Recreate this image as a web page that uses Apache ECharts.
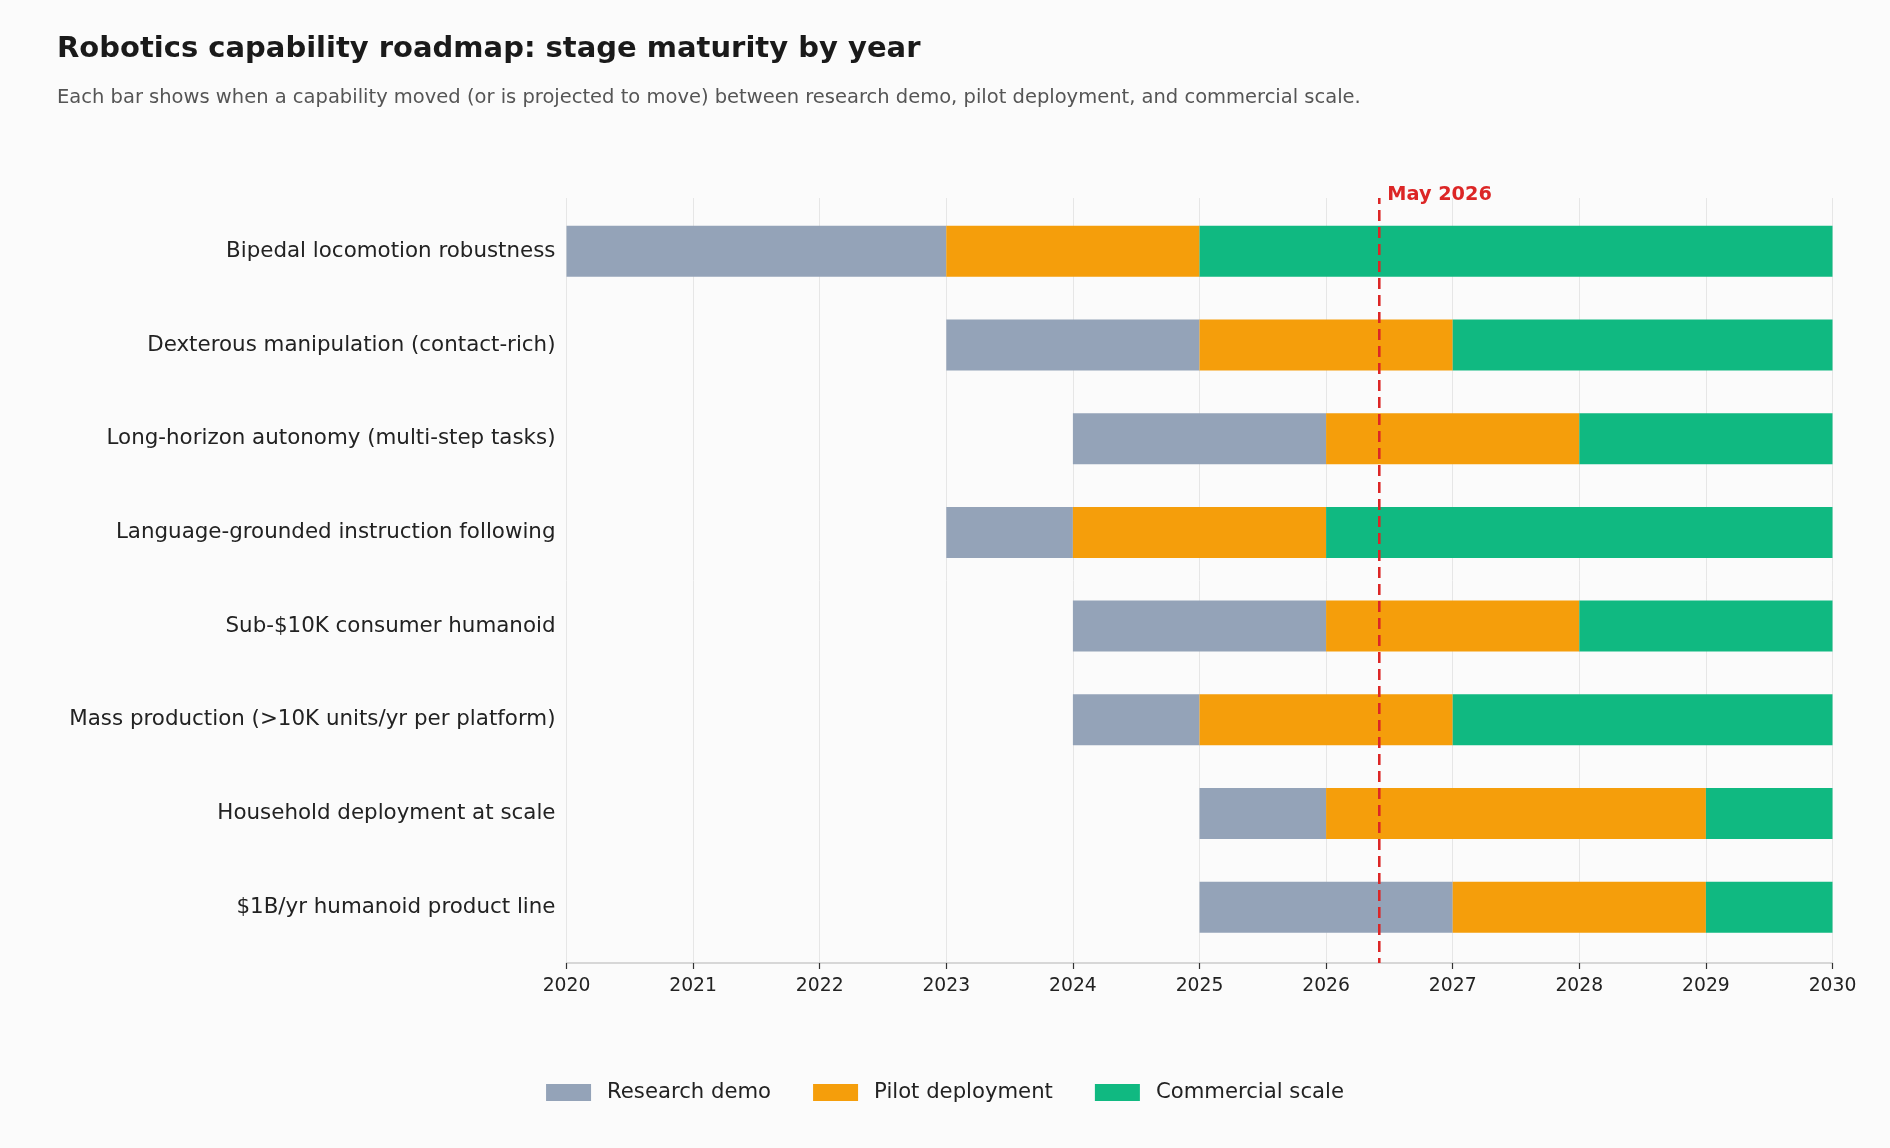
<!DOCTYPE html>
<html>
<head>
<meta charset="utf-8">
<title>Robotics capability roadmap</title>
<script src="https://cdn.jsdelivr.net/npm/echarts@6/dist/echarts.min.js"></script>
<style>
  html, body { margin: 0; padding: 0; background: #fbfbfb; }
  #chart { width: 1890px; height: 1148px; }
</style>
</head>
<body>
<div id="chart"></div>
<script>
// ---- data ----
var categories = [
  'Bipedal locomotion robustness',
  'Dexterous manipulation (contact-rich)',
  'Long-horizon autonomy (multi-step tasks)',
  'Language-grounded instruction following',
  'Sub-$10K consumer humanoid',
  'Mass production (>10K units/yr per platform)',
  'Household deployment at scale',
  '$1B/yr humanoid product line'
];
var researchStart   = [2020, 2023, 2024, 2023, 2024, 2024, 2025, 2025];
var pilotStart      = [2023, 2025, 2026, 2024, 2026, 2025, 2026, 2027];
var commercialStart = [2025, 2027, 2028, 2026, 2028, 2027, 2029, 2029];
var horizonEnd      = [2030, 2030, 2030, 2030, 2030, 2030, 2030, 2030];
var stageNames = ['Research demo', 'Pilot deployment', 'Commercial scale'];
var stageColors = ['#94a3b8', '#f59e0b', '#10b981'];
var yearMin = 2020, yearMax = 2030;
var markerYear = 2026.42;        // May 2026
var markerLabel = 'May 2026';

// segment lengths for the stacked bars
var researchLen = researchStart.map(function (s, i) { return pilotStart[i] - s; });
var pilotLen = pilotStart.map(function (s, i) { return commercialStart[i] - s; });
var commercialLen = commercialStart.map(function (s, i) { return horizonEnd[i] - s; });

var chart = echarts.init(document.getElementById('chart'), null, { renderer: 'canvas' });

function stage(idx, values) {
  return {
    name: stageNames[idx],
    type: 'bar',
    stack: 'road',
    xAxisIndex: 0, yAxisIndex: 0,
    barWidth: 51,
    itemStyle: { color: stageColors[idx] },
    data: values
  };
}

var option = {
  backgroundColor: '#fbfbfb',
  animation: false,
  textStyle: { fontFamily: 'DejaVu Sans' },
  title: {
    left: 52, top: 26,
    text: 'Robotics capability roadmap: stage maturity by year',
    textStyle: { fontSize: 29, fontWeight: 'bold', color: '#1a1a1a', lineHeight: 36 },
    subtext: 'Each bar shows when a capability moved (or is projected to move) between research demo, pilot deployment, and commercial scale.',
    subtextStyle: { fontSize: 19.5, color: '#555555', lineHeight: 26 },
    itemGap: 18
  },
  legend: {
    data: stageNames,
    left: 'center',
    top: 1077,
    itemWidth: 45,
    itemHeight: 17,
    itemGap: 42,
    icon: 'rect',
    textStyle: { fontSize: 21.2, color: '#222222', padding: [0, 0, 0, 11] }
  },
  grid: [
    // bars
    { left: 566.5, right: 57.5, top: 204.5, bottom: 194 },
    // axis / gridlines / marker
    { left: 566.5, right: 57.5, top: 198, bottom: 185 }
  ],
  xAxis: [
    { gridIndex: 0, type: 'value', min: yearMin, max: yearMax, interval: 1, show: false },
    {
      gridIndex: 1, type: 'value', min: yearMin, max: yearMax, interval: 1,
      axisLine: { show: true, lineStyle: { color: '#cccccc', width: 1.5 } },
      axisTick: { show: true, length: 6, lineStyle: { color: '#333333', width: 1.2 } },
      axisLabel: {
        fontSize: 18.75, color: '#222222', margin: 14,
        formatter: function (v) { return String(v); }
      },
      splitLine: { show: true, lineStyle: { color: '#e6e6e6', width: 1 } }
    }
  ],
  yAxis: [
    {
      gridIndex: 0, type: 'category', data: categories, inverse: true,
      axisLine: { show: false }, axisTick: { show: false },
      axisLabel: { fontSize: 21.4, color: '#222222', margin: 11, padding: [4, 0, 0, 0] }
    },
    { gridIndex: 1, type: 'value', min: 0, max: 1, show: false }
  ],
  series: [
    {
      name: 'base',
      type: 'bar',
      stack: 'road',
      xAxisIndex: 0, yAxisIndex: 0,
      barWidth: 51,
      silent: true,
      itemStyle: { color: 'rgba(0,0,0,0)' },
      data: researchStart
    },
    stage(0, researchLen),
    stage(1, pilotLen),
    stage(2, commercialLen),
    {
      name: 'marker',
      type: 'line',
      xAxisIndex: 1, yAxisIndex: 1,
      symbol: 'none',
      silent: true,
      z: 10,
      lineStyle: { color: '#dc2626', width: 2.6, type: [11, 6], dashOffset: 6 },
      data: [[markerYear, 0], [markerYear, 1]],
      endLabel: {
        show: true,
        formatter: markerLabel,
        distance: 8,
        offset: [0, -3],
        fontSize: 19.3,
        fontWeight: 'bold',
        color: '#dc2626'
      }
    }
  ]
};

chart.setOption(option);
</script>
</body>
</html>
